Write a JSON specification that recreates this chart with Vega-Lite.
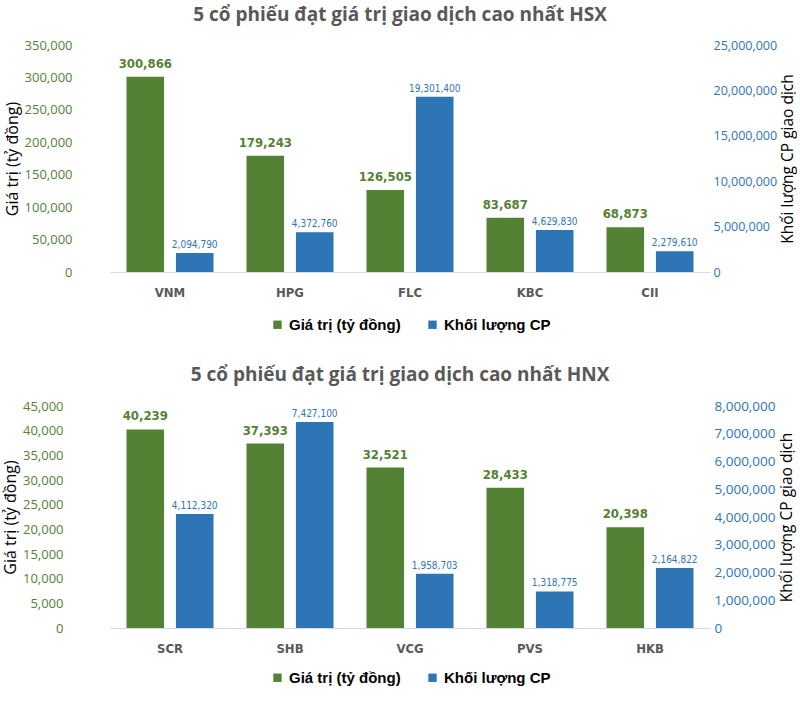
{
  "$schema": "https://vega.github.io/schema/vega-lite/v6.json",
  "background": "white",
  "padding": {"left": 2, "right": 0, "top": 6, "bottom": 0},
  "spacing": 33,
  "config": {
    "view": {"stroke": null},
    "font": "Open Sans",
    "title": {"font": "Open Sans", "fontSize": 19, "fontWeight": "bold", "color": "#595959", "anchor": "middle", "offset": 14, "dx": -10},
    "axisX": {"domainColor": "#d9d9d9", "domainWidth": 1, "ticks": false, "labelPadding": 14, "labelFont": "DejaVu Sans Condensed", "labelFontWeight": "bold", "labelFontSize": 13, "labelColor": "#595959", "labelAngle": 0, "title": null, "grid": false},
    "axisY": {"grid": false, "domain": false, "ticks": false, "labelFont": "Open Sans", "labelFontSize": 13, "titleFont": "Open Sans", "titleFontSize": 16, "titleFontWeight": "normal", "titleColor": "#000000"},
    "legend": {"orient": "none", "direction": "horizontal", "title": null, "symbolType": "square", "symbolSize": 70, "labelFont": "Liberation Sans", "labelFontWeight": "bold", "labelFontSize": 15, "labelColor": "#000000", "columnPadding": 24, "symbolStrokeWidth": 0, "legendX": 160, "legendY": 272}
  },
  "resolve": {"scale": {"color": "independent"}, "legend": {"color": "independent"}},
  "datasets": {
    "hsx": [
      {"ma": "VNM", "series": "Giá trị (tỷ đồng)", "val": 300866},
      {"ma": "VNM", "series": "Khối lượng CP", "val": 2094790},
      {"ma": "HPG", "series": "Giá trị (tỷ đồng)", "val": 179243},
      {"ma": "HPG", "series": "Khối lượng CP", "val": 4372760},
      {"ma": "FLC", "series": "Giá trị (tỷ đồng)", "val": 126505},
      {"ma": "FLC", "series": "Khối lượng CP", "val": 19301400},
      {"ma": "KBC", "series": "Giá trị (tỷ đồng)", "val": 83687},
      {"ma": "KBC", "series": "Khối lượng CP", "val": 4629830},
      {"ma": "CII", "series": "Giá trị (tỷ đồng)", "val": 68873},
      {"ma": "CII", "series": "Khối lượng CP", "val": 2279610}
    ],
    "hnx": [
      {"ma": "SCR", "series": "Giá trị (tỷ đồng)", "val": 40239},
      {"ma": "SCR", "series": "Khối lượng CP", "val": 4112320},
      {"ma": "SHB", "series": "Giá trị (tỷ đồng)", "val": 37393},
      {"ma": "SHB", "series": "Khối lượng CP", "val": 7427100},
      {"ma": "VCG", "series": "Giá trị (tỷ đồng)", "val": 32521},
      {"ma": "VCG", "series": "Khối lượng CP", "val": 1958703},
      {"ma": "PVS", "series": "Giá trị (tỷ đồng)", "val": 28433},
      {"ma": "PVS", "series": "Khối lượng CP", "val": 1318775},
      {"ma": "HKB", "series": "Giá trị (tỷ đồng)", "val": 20398},
      {"ma": "HKB", "series": "Khối lượng CP", "val": 2164822}
    ]
  },
  "vconcat": [
    {
      "title": "5 cổ phiếu đạt giá trị giao dịch cao nhất HSX",
      "width": 600,
      "height": 227,
      "data": {"name": "hsx"},
      "encoding": {
        "x": {"field": "ma", "type": "nominal", "sort": null, "scale": {"paddingInner": 0.275, "paddingOuter": 0.1375}},
        "xOffset": {"field": "series", "type": "nominal", "sort": null, "scale": {"domain": ["Giá trị (tỷ đồng)", "Khối lượng CP"], "paddingInner": 0.24, "paddingOuter": 0}}
      },
      "layer": [
        {
          "transform": [{"filter": "datum.series === 'Giá trị (tỷ đồng)'"}],
          "encoding": {
            "y": {"field": "val", "type": "quantitative", "scale": {"domain": [0, 350000]}, "axis": {"orient": "left", "title": "Giá trị (tỷ đồng)", "values": [0, 50000, 100000, 150000, 200000, 250000, 300000, 350000], "format": ",.0f", "formatType": "number", "labelColor": "#548235", "labelPadding": 4, "offset": 34, "titlePadding": 4}}
          },
          "layer": [
            {"mark": {"type": "bar"}, "encoding": {"color": {"field": "series", "type": "nominal", "scale": {"domain": ["Giá trị (tỷ đồng)", "Khối lượng CP"], "range": ["#548235", "#2E75B6"]}}}},
            {"mark": {"type": "text", "baseline": "bottom", "dy": -6, "font": "DejaVu Sans Condensed", "fontWeight": "bold", "fontSize": 13, "color": "#548235"}, "encoding": {"text": {"field": "val", "type": "quantitative", "format": ",.0f"}}}
          ]
        },
        {
          "transform": [{"filter": "datum.series === 'Khối lượng CP'"}],
          "encoding": {
            "y": {"field": "val", "type": "quantitative", "scale": {"domain": [0, 25000000]}, "axis": {"orient": "right", "title": "Khối lượng CP giao dịch", "values": [0, 5000000, 10000000, 15000000, 20000000, 25000000], "format": ",.0f", "formatType": "number", "labelColor": "#2E75B6", "labelFontSize": 12.5, "labelPadding": 3, "titleAngle": 270, "titleBaseline": "top", "titlePadding": 4, "titleFontSize": 15.5}}
          },
          "layer": [
            {"mark": {"type": "bar"}, "encoding": {"color": {"field": "series", "type": "nominal", "scale": {"domain": ["Giá trị (tỷ đồng)", "Khối lượng CP"], "range": ["#548235", "#2E75B6"]}}}},
            {"mark": {"type": "text", "baseline": "bottom", "dy": -3, "font": "DejaVu Sans Condensed", "fontSize": 10, "color": "#2E75B6"}, "encoding": {"text": {"field": "val", "type": "quantitative", "format": ",.0f"}}}
          ]
        }
      ],
      "resolve": {"scale": {"y": "independent"}}
    },
    {
      "title": "5 cổ phiếu đạt giá trị giao dịch cao nhất HNX",
      "width": 600,
      "height": 222,
      "data": {"name": "hnx"},
      "encoding": {
        "x": {"field": "ma", "type": "nominal", "sort": null, "scale": {"paddingInner": 0.275, "paddingOuter": 0.1375}},
        "xOffset": {"field": "series", "type": "nominal", "sort": null, "scale": {"domain": ["Giá trị (tỷ đồng)", "Khối lượng CP"], "paddingInner": 0.24, "paddingOuter": 0}}
      },
      "layer": [
        {
          "transform": [{"filter": "datum.series === 'Giá trị (tỷ đồng)'"}],
          "encoding": {
            "y": {"field": "val", "type": "quantitative", "scale": {"domain": [0, 45000]}, "axis": {"orient": "left", "title": "Giá trị (tỷ đồng)", "values": [0, 5000, 10000, 15000, 20000, 25000, 30000, 35000, 40000, 45000], "format": ",.0f", "formatType": "number", "labelColor": "#548235", "labelPadding": 4, "offset": 43, "titlePadding": 4}}
          },
          "layer": [
            {"mark": {"type": "bar"}, "encoding": {"color": {"field": "series", "type": "nominal", "scale": {"domain": ["Giá trị (tỷ đồng)", "Khối lượng CP"], "range": ["#548235", "#2E75B6"]}, "legend": {"legendX": 160, "legendY": 264}}}},
            {"mark": {"type": "text", "baseline": "bottom", "dy": -6, "font": "DejaVu Sans Condensed", "fontWeight": "bold", "fontSize": 13, "color": "#548235"}, "encoding": {"text": {"field": "val", "type": "quantitative", "format": ",.0f"}}}
          ]
        },
        {
          "transform": [{"filter": "datum.series === 'Khối lượng CP'"}],
          "encoding": {
            "y": {"field": "val", "type": "quantitative", "scale": {"domain": [0, 8000000]}, "axis": {"orient": "right", "title": "Khối lượng CP giao dịch", "values": [0, 1000000, 2000000, 3000000, 4000000, 5000000, 6000000, 7000000, 8000000], "format": ",.0f", "formatType": "number", "labelColor": "#2E75B6", "labelFontSize": 13.5, "labelPadding": 4, "titleAngle": 270, "titleBaseline": "top", "titlePadding": 4, "titleFontSize": 15.5}}
          },
          "layer": [
            {"mark": {"type": "bar"}, "encoding": {"color": {"field": "series", "type": "nominal", "scale": {"domain": ["Giá trị (tỷ đồng)", "Khối lượng CP"], "range": ["#548235", "#2E75B6"]}, "legend": {"legendX": 160, "legendY": 264}}}},
            {"mark": {"type": "text", "baseline": "bottom", "dy": -3, "font": "DejaVu Sans Condensed", "fontSize": 10, "color": "#2E75B6"}, "encoding": {"text": {"field": "val", "type": "quantitative", "format": ",.0f"}}}
          ]
        }
      ],
      "resolve": {"scale": {"y": "independent"}}
    }
  ]
}
